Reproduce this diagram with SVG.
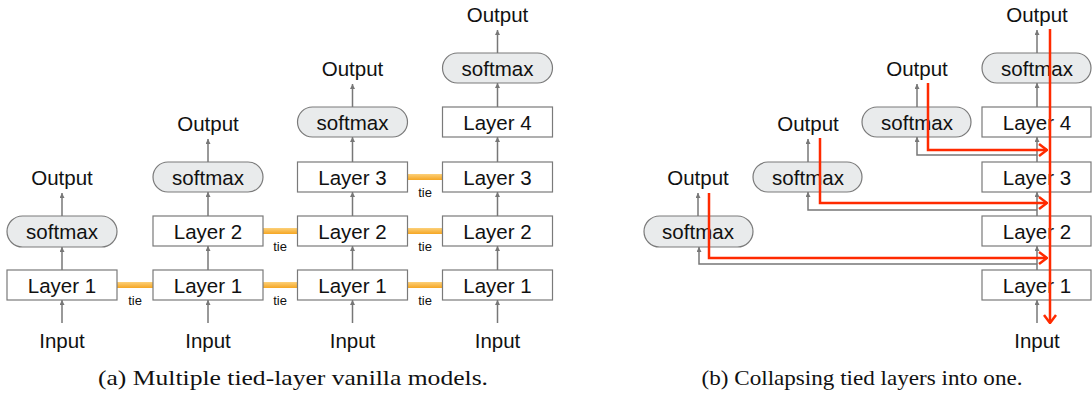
<svg xmlns="http://www.w3.org/2000/svg" width="1092" height="400" viewBox="0 0 1092 400">
<style>
.box{fill:#fff;stroke:#7a7a7a;stroke-width:1.2}
.pill{fill:#e9ebec;stroke:#7a7a7a;stroke-width:1.2}
.lbl{font-family:"Liberation Sans",Arial,sans-serif;font-size:20.5px;fill:#111;text-anchor:middle}
.tie{font-family:"Liberation Sans",Arial,sans-serif;font-size:13px;fill:#111;text-anchor:middle}
.cap{font-family:"Liberation Serif","Times New Roman",serif;font-size:21px;fill:#111;text-anchor:middle}
.ar{fill:none;stroke:#777;stroke-width:1.5;marker-end:url(#ga)}
.red{fill:none;stroke:#ff2a00;stroke-width:2.5;marker-end:url(#ra)}
.bar{fill:url(#og)}
</style>
<defs>
<marker id="ga" viewBox="0 0 10 10" refX="10" refY="5" markerWidth="5" markerHeight="5" orient="auto" markerUnits="userSpaceOnUse">
<path d="M0,0 L10,5 L0,10 z" fill="#777"/>
</marker>
<marker id="ra" viewBox="0 0 10 14" refX="9" refY="7" markerWidth="10" markerHeight="14" orient="auto" markerUnits="userSpaceOnUse">
<path d="M1,1 L9,7 L1,13" fill="none" stroke="#ff2a00" stroke-width="2.5"/>
</marker>
<linearGradient id="og" x1="0" y1="0" x2="0" y2="1">
<stop offset="0" stop-color="#fcd079"/>
<stop offset="1" stop-color="#f5a623"/>
</linearGradient>
</defs>

<!-- Panel (a) -->
<g id="connectors-a">
<path class="ar" d="M62 323 V300"/>
<path class="ar" d="M62 270 V247"/>
<path class="ar" d="M62 216 V193"/>
<path class="ar" d="M208 323 V300"/>
<path class="ar" d="M208 270 V246"/>
<path class="ar" d="M208 216 V192"/>
<path class="ar" d="M208 162 V139"/>
<path class="ar" d="M352.5 323 V300"/>
<path class="ar" d="M352.5 270 V246"/>
<path class="ar" d="M352.5 216 V192"/>
<path class="ar" d="M352.5 162 V137"/>
<path class="ar" d="M352.5 107 V84"/>
<path class="ar" d="M497.5 323 V300"/>
<path class="ar" d="M497.5 270 V246"/>
<path class="ar" d="M497.5 216 V192"/>
<path class="ar" d="M497.5 162 V137"/>
<path class="ar" d="M497.5 107 V83"/>
<path class="ar" d="M497.5 53 V30"/>
</g>

<g id="ties">
<rect class="bar" x="117" y="282" width="36" height="6"/>
<text class="tie" x="135" y="305">tie</text>
<rect class="bar" x="263" y="282" width="34.5" height="6"/>
<text class="tie" x="280" y="305">tie</text>
<rect class="bar" x="263" y="228" width="34.5" height="6"/>
<text class="tie" x="280" y="251">tie</text>
<rect class="bar" x="407.5" y="282" width="35" height="6"/>
<text class="tie" x="425" y="305">tie</text>
<rect class="bar" x="407.5" y="228" width="35" height="6"/>
<text class="tie" x="425" y="251">tie</text>
<rect class="bar" x="407.5" y="174" width="35" height="6"/>
<text class="tie" x="425" y="197">tie</text>
</g>

<g id="a-col1">
<text class="lbl" x="62" y="348">Input</text>
<rect class="box" x="7" y="270" width="110" height="30"/>
<text class="lbl" x="62" y="292.5">Layer 1</text>
<rect class="pill" x="7" y="216" width="110" height="31" rx="15.5"/>
<text class="lbl" x="62" y="239">softmax</text>
<text class="lbl" x="62" y="185">Output</text>
</g>
<g id="a-col2">
<text class="lbl" x="208" y="348">Input</text>
<rect class="box" x="153" y="270" width="110" height="30"/>
<text class="lbl" x="208" y="292.5">Layer 1</text>
<rect class="box" x="153" y="216" width="110" height="30"/>
<text class="lbl" x="208" y="238.5">Layer 2</text>
<rect class="pill" x="153" y="162" width="110" height="30" rx="15"/>
<text class="lbl" x="208" y="184.5">softmax</text>
<text class="lbl" x="208" y="131">Output</text>
</g>
<g id="a-col3">
<text class="lbl" x="352.5" y="348">Input</text>
<rect class="box" x="297.5" y="270" width="110" height="30"/>
<text class="lbl" x="352.5" y="292.5">Layer 1</text>
<rect class="box" x="297.5" y="216" width="110" height="30"/>
<text class="lbl" x="352.5" y="238.5">Layer 2</text>
<rect class="box" x="297.5" y="162" width="110" height="30"/>
<text class="lbl" x="352.5" y="184.5">Layer 3</text>
<rect class="pill" x="297.5" y="107" width="110" height="30" rx="15"/>
<text class="lbl" x="352.5" y="129.5">softmax</text>
<text class="lbl" x="352.5" y="76">Output</text>
</g>
<g id="a-col4">
<text class="lbl" x="497.5" y="348">Input</text>
<rect class="box" x="442.5" y="270" width="110" height="30"/>
<text class="lbl" x="497.5" y="292.5">Layer 1</text>
<rect class="box" x="442.5" y="216" width="110" height="30"/>
<text class="lbl" x="497.5" y="238.5">Layer 2</text>
<rect class="box" x="442.5" y="162" width="110" height="30"/>
<text class="lbl" x="497.5" y="184.5">Layer 3</text>
<rect class="box" x="442.5" y="107" width="110" height="30"/>
<text class="lbl" x="497.5" y="129.5">Layer 4</text>
<rect class="pill" x="442.5" y="53" width="110" height="30" rx="15"/>
<text class="lbl" x="497.5" y="75.5">softmax</text>
<text class="lbl" x="497.5" y="22">Output</text>
</g>

<!-- Panel (b) -->
<g id="b-nodes">
<g id="b-input"><text class="lbl" x="1037" y="348">Input</text></g>
<g id="b-layer1"><rect class="box" x="982" y="270" width="109" height="30"/><text class="lbl" x="1037" y="292.5">Layer 1</text></g>
<g id="b-layer2"><rect class="box" x="982" y="216" width="109" height="30"/><text class="lbl" x="1037" y="238.5">Layer 2</text></g>
<g id="b-layer3"><rect class="box" x="982" y="162" width="109" height="30"/><text class="lbl" x="1037" y="184.5">Layer 3</text></g>
<g id="b-layer4"><rect class="box" x="982" y="107" width="109" height="30"/><text class="lbl" x="1037" y="129.5">Layer 4</text></g>
<g id="b-softmax4"><rect class="pill" x="982" y="53" width="109" height="30" rx="15"/><text class="lbl" x="1037" y="75.5">softmax</text></g>
<g id="b-output4"><text class="lbl" x="1037" y="22">Output</text></g>
<g id="b-softmax3"><rect class="pill" x="862" y="107" width="109" height="30" rx="15"/><text class="lbl" x="917" y="129.5">softmax</text></g>
<g id="b-output3"><text class="lbl" x="917" y="76">Output</text></g>
<g id="b-softmax2"><rect class="pill" x="753" y="162" width="109" height="30" rx="15"/><text class="lbl" x="808" y="184.5">softmax</text></g>
<g id="b-output2"><text class="lbl" x="808" y="131">Output</text></g>
<g id="b-softmax1"><rect class="pill" x="644" y="216" width="109" height="31" rx="15.5"/><text class="lbl" x="698" y="239">softmax</text></g>
<g id="b-output1"><text class="lbl" x="698" y="185">Output</text></g>
</g>

<g id="connectors-b">
<path class="ar" d="M1037 323 V300"/>
<path class="ar" d="M1037 270 V246"/>
<path class="ar" d="M1037 216 V192"/>
<path class="ar" d="M1037 162 V137"/>
<path class="ar" d="M1037 107 V83"/>
<path class="ar" d="M1037 53 V30"/>
<path class="ar" d="M1037 264 H699 V247"/>
<path class="ar" d="M1037 210 H808 V192"/>
<path class="ar" d="M1037 155 H917 V137"/>
<path class="ar" d="M698 216 V193"/>
<path class="ar" d="M808 162 V139"/>
<path class="ar" d="M917 107 V84"/>
<path class="red" d="M709 193 V258 H1047"/>
<path class="red" d="M820 138 V203 H1047"/>
<path class="red" d="M928 83 V150 H1047"/>
<path class="red" d="M1050 29 V323"/>
</g>

<g id="captions">
<text class="cap" x="293" y="385" textLength="390" lengthAdjust="spacingAndGlyphs">(a) Multiple tied-layer vanilla models.</text>
<text class="cap" x="862" y="385" textLength="321" lengthAdjust="spacingAndGlyphs">(b) Collapsing tied layers into one.</text>
</g>
</svg>
